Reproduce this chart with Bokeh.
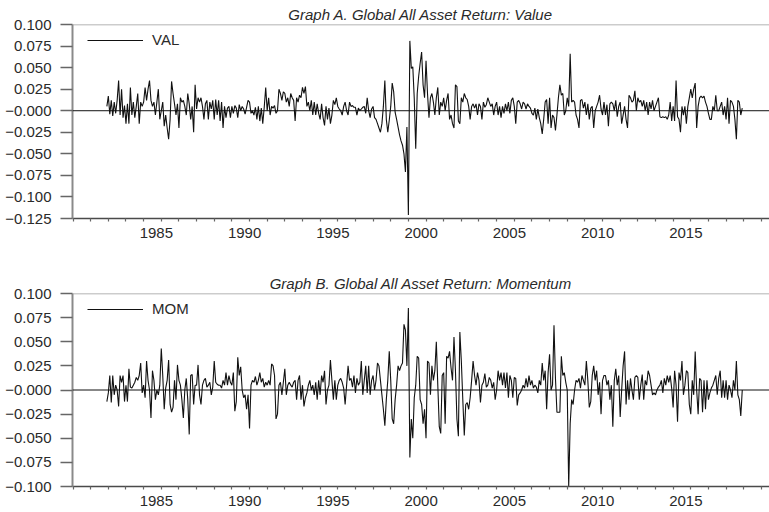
from bokeh.plotting import figure
from bokeh.models import (Range1d, FixedTicker, Span, Legend, LegendItem,
                          CustomJSTickFormatter)
from bokeh.layouts import column
from bokeh.embed import file_html
from bokeh.resources import INLINE

# ---------------- data (monthly, Dec 1982 .. Dec 2018) ----------------
first_month = 1982 + 11 / 12.0

val_returns = [
    0.005,  # 1982 Dec
    0.017, -0.004, 0.012, -0.006, 0.010, -0.003, 0.012, 0.035, -0.005, 0.025, -0.008, 0.006,  # 1983
    -0.015, 0.008, -0.015, 0.027, -0.005, 0.010, -0.008, 0.005, 0.020, -0.015, 0.010, 0.005,  # 1984
    0.010, 0.027, 0.012, 0.025, 0.035, 0.012, 0.005, 0.010, -0.005, 0.010, 0.025, -0.010,  # 1985
    0.000, 0.010, -0.018, -0.005, -0.020, -0.033, -0.010, 0.034, 0.020, 0.008, -0.005, 0.008,  # 1986
    -0.020, 0.015, 0.010, 0.012, 0.005, -0.005, 0.020, 0.008, -0.010, 0.005, -0.025, 0.030,  # 1987
    0.002, 0.015, 0.010, 0.015, 0.005, -0.010, 0.008, 0.012, -0.010, 0.010, 0.002, 0.012,  # 1988
    -0.010, 0.013, -0.005, 0.012, -0.012, 0.010, -0.020, 0.005, -0.008, 0.003, 0.005, -0.008,  # 1989
    0.005, -0.003, 0.006, 0.003, -0.008, 0.007, 0.000, 0.005, 0.002, -0.004, 0.004, 0.012,  # 1990
    0.010, -0.003, 0.000, -0.005, 0.004, -0.010, 0.005, -0.012, 0.003, -0.015, 0.004, 0.027,  # 1991
    0.000, 0.015, -0.005, 0.005, 0.003, 0.006, -0.003, 0.000, 0.025, 0.020, 0.012, 0.022,  # 1992
    0.020, 0.010, 0.015, 0.005, 0.020, 0.015, 0.012, -0.012, 0.015, 0.010, 0.018, 0.015,  # 1993
    0.027, 0.020, 0.028, 0.005, 0.010, 0.000, 0.012, -0.005, 0.010, -0.005, 0.008, -0.003,  # 1994
    -0.010, 0.008, -0.008, -0.017, 0.005, -0.010, 0.003, -0.015, -0.005, 0.012, 0.007, 0.015,  # 1995
    0.005, 0.002, 0.000, -0.005, 0.005, 0.010, 0.000, -0.005, 0.010, 0.005, 0.006, 0.004,  # 1996
    0.004, -0.005, 0.003, 0.000, 0.002, 0.004, 0.005, -0.003, 0.015, 0.000, -0.008, 0.002,  # 1997
    0.005, -0.008, -0.010, -0.015, -0.020, -0.025, -0.015, 0.005, 0.035, -0.010, -0.025, -0.011,  # 1998
    0.005, 0.032, 0.022, -0.002, -0.010, -0.019, -0.028, -0.035, -0.040, -0.050, -0.071, -0.019,  # 1999
    -0.121, 0.081, 0.049, 0.051, 0.014, -0.044, 0.020, 0.040, 0.055, 0.068, 0.030, 0.015,  # 2000
    0.058, 0.020, -0.008, 0.015, 0.020, 0.010, -0.005, 0.015, 0.027, -0.005, 0.010, 0.005,  # 2001
    0.015, 0.000, 0.012, 0.020, -0.010, -0.005, -0.015, -0.020, 0.030, 0.028, -0.012, -0.015,  # 2002
    0.015, 0.010, 0.020, 0.015, 0.013, 0.005, -0.010, 0.005, 0.008, 0.003, 0.008, -0.005,  # 2003
    0.008, 0.005, -0.010, 0.010, 0.004, 0.007, 0.015, 0.010, 0.005, 0.008, -0.005, 0.005,  # 2004
    0.010, -0.005, 0.005, -0.008, 0.005, -0.003, 0.008, 0.000, 0.010, -0.003, 0.012, 0.015,  # 2005
    0.005, -0.015, 0.010, 0.012, 0.008, 0.002, 0.010, 0.008, 0.002, 0.008, 0.005, 0.003,  # 2006
    -0.003, -0.005, 0.003, -0.010, 0.002, -0.008, -0.015, -0.027, -0.010, 0.010, 0.013, -0.015,  # 2007
    0.015, -0.020, -0.005, -0.008, -0.023, -0.005, 0.015, 0.030, 0.018, 0.020, -0.005, 0.000,  # 2008
    0.015, 0.005, 0.066, 0.010, 0.012, 0.010, -0.005, -0.010, -0.020, 0.012, 0.013, 0.003,  # 2009
    0.010, -0.005, 0.008, -0.010, 0.003, 0.005, -0.020, 0.000, 0.005, 0.010, 0.018, 0.002,  # 2010
    -0.005, 0.010, -0.005, 0.007, -0.018, 0.008, 0.010, 0.008, 0.000, 0.012, -0.007, 0.005,  # 2011
    0.010, -0.015, -0.005, 0.005, -0.010, -0.020, 0.018, 0.015, 0.010, 0.012, 0.023, 0.000,  # 2012
    0.015, 0.010, 0.012, 0.005, 0.012, 0.000, 0.010, -0.005, 0.010, 0.002, 0.012, 0.000,  # 2013
    0.005, 0.010, 0.015, -0.007, -0.008, -0.007, -0.008, -0.007, -0.010, -0.005, 0.010, -0.012,  # 2014
    0.005, -0.012, 0.035, -0.007, -0.010, -0.025, 0.005, -0.005, 0.005, -0.015, 0.005, 0.015,  # 2015
    0.025, 0.015, 0.025, 0.032, -0.020, 0.005, 0.015, 0.017, 0.015, 0.017, 0.010, 0.005,  # 2016
    -0.003, -0.010, -0.010, 0.005, 0.000, 0.018, 0.000, 0.000, 0.005, 0.010, -0.005, 0.005,  # 2017
    -0.010, 0.015, -0.015, 0.012, 0.010, 0.005, -0.010, -0.033, 0.012, 0.010, -0.005, 0.003,  # 2018
]

mom_returns = [
    -0.012,  # 1982 Dec
    -0.003, 0.015, -0.013, 0.015, -0.005, 0.005, 0.000, -0.017, 0.015, 0.008, 0.015, -0.012,  # 1983
    0.005, -0.012, 0.022, 0.003, 0.002, 0.005, 0.008, 0.013, 0.010, 0.015, 0.028, -0.003,  # 1984
    0.005, -0.008, 0.030, 0.010, 0.000, -0.029, 0.020, 0.010, -0.010, 0.000, -0.005, 0.005,  # 1985
    0.043, 0.015, -0.020, 0.002, 0.010, 0.031, -0.015, -0.023, -0.018, 0.010, -0.010, 0.026,  # 1986
    0.010, 0.005, -0.010, -0.029, 0.000, 0.012, -0.010, -0.046, 0.015, 0.016, -0.015, 0.005,  # 1987
    0.005, 0.026, -0.005, -0.015, 0.005, 0.010, 0.012, 0.003, 0.005, 0.008, -0.005, 0.003,  # 1988
    0.030, 0.008, 0.006, 0.005, 0.005, 0.002, 0.010, 0.005, 0.018, 0.005, 0.015, 0.008,  # 1989
    0.005, 0.018, -0.022, -0.012, 0.034, 0.015, 0.024, 0.000, -0.008, -0.005, -0.020, -0.005,  # 1990
    -0.040, 0.005, 0.010, 0.008, 0.014, 0.005, 0.010, 0.018, 0.008, 0.012, 0.003, 0.008,  # 1991
    0.005, 0.010, 0.005, 0.027, 0.025, 0.015, -0.030, -0.025, 0.005, 0.008, -0.005, 0.008,  # 1992
    0.022, -0.005, 0.005, 0.008, 0.005, 0.003, 0.008, 0.010, -0.010, 0.010, 0.015, -0.010,  # 1993
    0.005, -0.017, -0.008, -0.003, 0.005, 0.010, 0.000, 0.005, -0.005, 0.008, -0.010, 0.010,  # 1994
    -0.005, 0.015, 0.008, 0.020, -0.015, 0.000, 0.005, 0.031, 0.010, -0.010, 0.010, -0.010,  # 1995
    0.005, 0.010, 0.012, 0.008, 0.002, -0.015, 0.005, 0.025, 0.010, 0.012, 0.003, 0.015,  # 1996
    -0.003, 0.012, 0.005, 0.008, 0.030, -0.005, 0.010, 0.025, -0.003, 0.025, -0.005, 0.010,  # 1997
    0.015, 0.000, 0.010, 0.028, 0.025, 0.010, -0.005, -0.020, -0.037, -0.010, 0.010, 0.040,  # 1998
    0.010, -0.030, -0.035, -0.010, 0.005, 0.025, 0.020, 0.025, 0.028, 0.068, 0.062, 0.025,  # 1999
    0.085, -0.070, -0.030, -0.050, -0.008, 0.005, 0.035, 0.033, -0.010, -0.015, -0.035, -0.020,  # 2000
    -0.050, 0.030, 0.028, -0.005, 0.025, 0.010, 0.020, 0.050, 0.005, -0.038, -0.045, 0.015,  # 2001
    0.018, -0.035, 0.035, 0.033, 0.040, 0.023, 0.010, 0.055, 0.020, -0.030, -0.048, 0.060,  # 2002
    0.030, -0.010, -0.047, -0.015, -0.013, -0.020, -0.008, 0.010, 0.030, 0.015, 0.005, 0.018,  # 2003
    0.010, -0.013, 0.005, 0.008, 0.017, 0.003, 0.005, 0.013, 0.010, 0.002, 0.008, -0.010,  # 2004
    0.000, 0.020, 0.010, 0.018, 0.005, 0.018, 0.002, 0.018, -0.008, 0.015, 0.010, -0.008,  # 2005
    0.013, 0.012, -0.016, -0.005, -0.003, 0.000, 0.005, 0.002, 0.012, 0.003, 0.015, 0.005,  # 2006
    0.010, 0.002, 0.005, 0.003, -0.003, 0.010, 0.005, 0.028, 0.010, 0.020, -0.020, 0.018,  # 2007
    0.037, 0.000, 0.005, 0.067, 0.012, -0.023, -0.023, -0.023, 0.035, 0.015, 0.018, 0.008,  # 2008
    0.000, -0.100, -0.035, -0.010, -0.015, 0.000, 0.010, 0.008, 0.012, 0.002, 0.015, 0.010,  # 2009
    0.005, 0.030, 0.010, -0.018, -0.012, 0.015, 0.025, 0.010, 0.020, -0.005, 0.008, -0.025,  # 2010
    0.010, 0.015, 0.015, 0.005, 0.010, -0.010, 0.005, -0.038, 0.010, 0.022, 0.005, 0.015,  # 2011
    -0.028, 0.000, 0.025, 0.040, -0.015, 0.010, -0.010, 0.012, 0.000, -0.010, 0.013, 0.015,  # 2012
    0.013, -0.010, 0.005, 0.016, -0.010, 0.010, 0.005, 0.020, 0.015, 0.005, -0.005, -0.003,  # 2013
    -0.005, 0.000, 0.003, 0.005, 0.010, -0.003, 0.012, 0.005, 0.015, 0.008, 0.015, 0.002,  # 2014
    -0.018, 0.020, 0.005, -0.033, 0.018, 0.010, 0.030, -0.005, 0.005, 0.020, 0.018, -0.015,  # 2015
    -0.025, 0.010, -0.005, 0.040, 0.000, -0.025, 0.012, 0.010, -0.023, 0.010, -0.020, 0.010,  # 2016
    -0.010, -0.003, 0.002, 0.005, 0.010, 0.015, -0.005, 0.012, 0.020, -0.008, 0.010, -0.008,  # 2017
    0.010, -0.010, 0.005, 0.000, -0.008, 0.010, 0.000, 0.030, -0.005, -0.010, -0.027, 0.000,  # 2018
]

year_labels = [1985, 1990, 1995, 2000, 2005, 2010, 2015]
year_ticks = list(range(1981, 2021))

y_ticks_a = [-0.125, -0.100, -0.075, -0.050, -0.025, 0.0, 0.025, 0.050, 0.075, 0.100]
y_labels_a = ["\u22120.125", "\u22120.100", "\u22120.075", "\u22120.050", "\u22120.025",
              "\u22120.000", "0.025", "0.050", "0.075", "0.100"]
y_ticks_b = [-0.100, -0.075, -0.050, -0.025, 0.0, 0.025, 0.050, 0.075, 0.100]
y_labels_b = ["\u22120.100", "\u22120.075", "\u22120.050", "\u22120.025",
              "\u22120.000", "0.025", "0.050", "0.075", "0.100"]

titles = ["Graph A. Global All Asset Return: Value",
          "Graph B. Global All Asset Return: Momentum"]
series_names = ["VAL", "MOM"]

months = [first_month + i / 12.0 for i in range(len(val_returns))]

# ---------------- styling ----------------
FONT = "Liberation Sans"
TXT = "#2a2a2a"
LEFT_AXC = "#8a8a8a"
TOP_AXC = "#9a9a9a"
BOTTOM_AXC = "#4a4a4a"
TICKC = "#666666"
LABEL_OFFSET = 0.72   # year labels sit a little to the right of the year tick
X_MIN, X_MAX = 1980.97, 2020.46
FRAME_W = 697


def make_panel(values, name, title, yticks, ylabels, ymin, ymax,
               frame_h, border_top, border_bottom):
    p = figure(frame_width=FRAME_W, frame_height=frame_h, output_backend="svg",
               toolbar_location=None,
               x_range=Range1d(X_MIN, X_MAX), y_range=Range1d(ymin, ymax),
               min_border_left=72, min_border_right=0,
               min_border_top=border_top, min_border_bottom=border_bottom)
    p.outline_line_color = None
    p.grid.visible = False
    p.background_fill_color = "white"
    p.border_fill_color = "white"

    p.title.text = title
    p.title.text_font = FONT
    p.title.text_font_size = "15px"
    p.title.text_font_style = "italic"
    p.title.text_color = TXT
    p.title.align = "center"
    p.title.standoff = 4

    r = p.line(months, values, line_color="#111111", line_width=1.1)

    p.add_layout(Span(location=0, dimension="width", line_color="#111111",
                      line_width=1))
    p.add_layout(Span(location=ymax, dimension="width", line_color=TOP_AXC,
                      line_width=1.6))

    ya = p.yaxis[0]
    ya.ticker = FixedTicker(ticks=yticks)
    ya.major_label_overrides = {t: l for t, l in zip(yticks, ylabels)}
    ya.major_tick_out = 12
    ya.major_tick_in = 0
    ya.minor_tick_line_color = None
    ya.major_tick_line_color = TICKC
    ya.major_tick_line_width = 1.4
    ya.axis_line_color = LEFT_AXC
    ya.axis_line_width = 2
    ya.major_label_standoff = 9
    ya.major_label_text_font = FONT
    ya.major_label_text_font_size = "15px"
    ya.major_label_text_color = TXT

    xa = p.xaxis[0]
    xa.ticker = FixedTicker(ticks=[y + LABEL_OFFSET for y in year_labels],
                            minor_ticks=year_ticks)
    xa.formatter = CustomJSTickFormatter(code="return Math.floor(tick).toString();")
    xa.major_tick_out = 0
    xa.major_tick_in = 0
    xa.minor_tick_out = 3
    xa.minor_tick_in = 0
    xa.minor_tick_line_color = TICKC
    xa.minor_tick_line_width = 1.2
    xa.axis_line_color = BOTTOM_AXC
    xa.axis_line_width = 1.5
    xa.major_label_standoff = 6
    xa.major_label_text_font = FONT
    xa.major_label_text_font_size = "15px"
    xa.major_label_text_color = TXT

    legend = Legend(items=[LegendItem(label=name, renderers=[r])],
                    location=(15, frame_h - 8 - 16),
                    glyph_width=56, glyph_height=16, label_height=16,
                    label_standoff=9, padding=0, margin=0,
                    border_line_color=None, background_fill_alpha=0,
                    label_text_font=FONT, label_text_font_size="15px",
                    label_text_color=TXT)
    p.add_layout(legend)
    return p


p1 = make_panel(val_returns, series_names[0], titles[0], y_ticks_a, y_labels_a,
                -0.125, 0.100, frame_h=194, border_top=24, border_bottom=38)
p2 = make_panel(mom_returns, series_names[1], titles[1], y_ticks_b, y_labels_b,
                -0.100, 0.100, frame_h=193, border_top=37, border_bottom=26)

layout = column(p1, p2)
open("out.html", "w").write(file_html(layout, INLINE))
